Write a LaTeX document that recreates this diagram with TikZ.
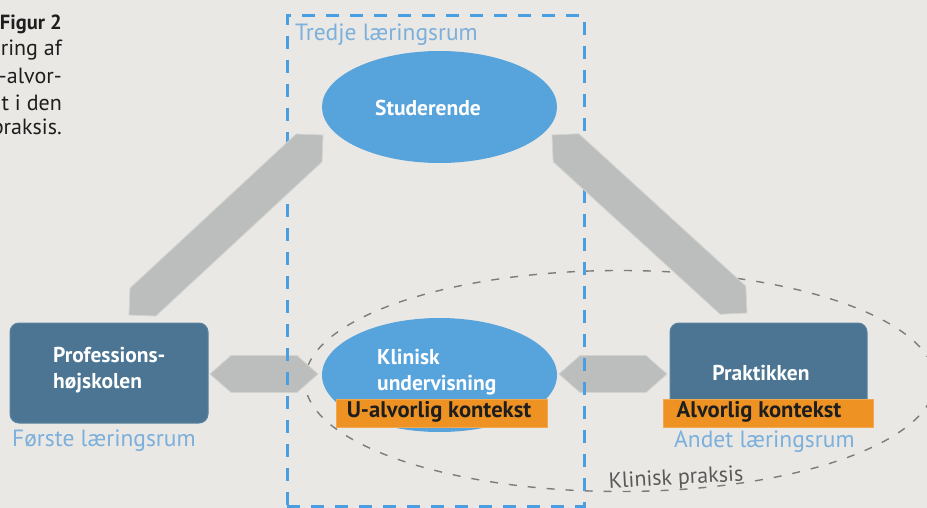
\documentclass[tikz,border=0pt]{standalone}
\usepackage{fontspec}
\setmainfont{PT Sans}
\usetikzlibrary{shapes.geometric,calc}
\definecolor{bgcol}{HTML}{EAE8E4}
\definecolor{ellblue}{HTML}{57A3DC}
\definecolor{boxblue}{HTML}{4B7592}
\definecolor{boxedge}{HTML}{5A84A0}
\definecolor{arrgray}{HTML}{BBBEBC}
\definecolor{arredge}{HTML}{D2D4D2}
\definecolor{orangebar}{HTML}{EE9323}
\definecolor{dashblue}{HTML}{4A9FE2}
\definecolor{lightblue}{HTML}{7BAFDC}
\definecolor{dashgray}{HTML}{7C7C7C}
\definecolor{txtdark}{HTML}{1E1E1E}
% block arrow between two named coordinates: #1 from, #2 to, #3 half width, #4 tip length
\newcommand\blockarrow[4]{%
  \filldraw[grayarrow] (#1)
    -- ($(#1)!#4!(#2)!#3!90:(#2)$)
    -- ($(#2)!#4!(#1)!#3!-90:(#1)$)
    -- (#2)
    -- ($(#2)!#4!(#1)!#3!90:(#1)$)
    -- ($(#1)!#4!(#2)!#3!-90:(#2)$)
    -- cycle;}
\begin{document}
\begin{tikzpicture}[x=1pt,y=-1pt,
  grayarrow/.style={fill=arrgray, draw=arredge, line width=0.8pt, line join=miter},
  blueell/.style={ellipse, fill=ellblue, inner sep=0pt},
  darkbox/.style={rectangle, rounded corners=9pt, fill=boxblue, draw=boxedge, line width=1pt, inner sep=0pt},
  orbar/.style={rectangle, fill=orangebar, draw=orangebar!80!white, line width=0.6pt, inner sep=0pt},
  whitelbl/.style={text=white, font=\fontsize{21.5}{26}\selectfont\bfseries, inner sep=0pt, align=left},
  orlbl/.style={text=txtdark, font=\fontsize{22.6}{26}\selectfont\bfseries, inner sep=0pt},
  roomlbl/.style={text=lightblue, font=\fontsize{23.5}{26}\selectfont, inner sep=0pt},
  captxt/.style={text=txtdark, inner sep=0pt, anchor=east},
]
\useasboundingbox (0,0) rectangle (927,508);
\fill[bgcol] (0,0) rectangle (927,508);

% caption (cut at left edge, as in the reference)
\node[captxt, font=\fontsize{20.5}{24}\selectfont\bfseries] (cap1) at (62,24) {Figur 2};
\node[captxt, font=\fontsize{22}{24}\selectfont] (cap2) at (62,50) {ring af};
\node[captxt, font=\fontsize{22}{24}\selectfont] (cap3) at (62,76) {-alvor-};
\node[captxt, font=\fontsize{22}{24}\selectfont] (cap4) at (62,103) {t i den};
\node[captxt, font=\fontsize{22}{24}\selectfont] (cap5) at (62,129) {praksis.};

% Klinisk praksis dashed ellipse
\node[ellipse, draw=dashgray, line width=1.4pt, dash pattern=on 8pt off 11pt,
      minimum width=630, minimum height=221, inner sep=0pt] (praksis) at (620,381) {};

% arrow end points
\coordinate (lh1) at (210,374);
\coordinate (lh2) at (318,374);
\coordinate (rh1) at (559,374);
\coordinate (rh2) at (667,374);
\coordinate (ld1) at (129,315);
\coordinate (ld2) at (323,135);
\coordinate (rd1) at (552,135);
\coordinate (rd2) at (747,313);

% horizontal block arrows (below the blue frame)
\blockarrow{lh1}{lh2}{18.5pt}{21pt}
\blockarrow{rh1}{rh2}{18.5pt}{21pt}

% third learning space frame
\node[rectangle, draw=dashblue, line width=3pt, dash pattern=on 13pt off 11pt,
      minimum width=297, minimum height=490, inner sep=0pt] (frame) at (435.5,261) {};
\node[roomlbl, anchor=west] (tredje) at (295,35) {Tredje læringsrum};

% diagonal block arrows (above the blue frame)
\blockarrow{ld1}{ld2}{19pt}{19pt}
\blockarrow{rd1}{rd2}{19pt}{19pt}

% Studerende
\node[blueell, minimum width=235, minimum height=112] (stud) at (439.5,107) {};
\node[whitelbl] (studtxt) at (428,108) {Studerende};

% Klinisk undervisning
\node[blueell, minimum width=235, minimum height=114] (klin) at (439.5,375) {};
\node[whitelbl, anchor=west] (klintxt) at (377,372) {Klinisk\\undervisning};
\node[orbar, minimum width=211, minimum height=28] (ualv) at (441.5,413) {};
\node[orlbl] (ualvtxt) at (439,412) {U-alvorlig kontekst};

% Professionshøjskolen
\node[darkbox, minimum width=198, minimum height=100] (prof) at (109,373) {};
\node[whitelbl, anchor=west] (proftxt) at (53,370) {Professions-\\højskolen};
\node[roomlbl, anchor=west] (forste) at (12,441) {Første læringsrum};

% Praktikken
\node[darkbox, minimum width=197, minimum height=100] (prak) at (768.5,373) {};
\node[whitelbl] (praktxt) at (761,373) {Praktikken};
\node[orbar, minimum width=210, minimum height=28] (alv) at (768,413) {};
\node[orlbl] (alvtxt) at (759,412) {Alvorlig kontekst};
\node[roomlbl, anchor=west] (andet) at (674,442) {Andet læringsrum};

% Klinisk praksis label
\node[text=black!65, font=\fontsize{22}{24}\selectfont, inner sep=0pt, rotate=3] (praksistxt)
  at (676,479) {Klinisk praksis};
\end{tikzpicture}
\end{document}
